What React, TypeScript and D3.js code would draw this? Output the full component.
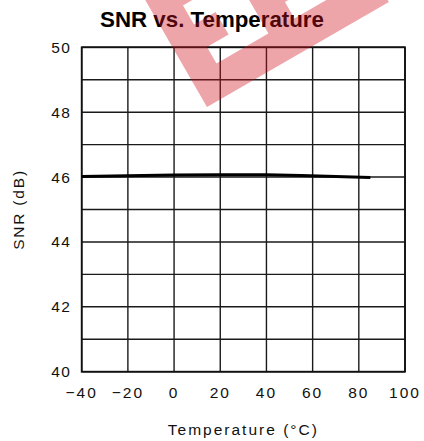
import React from "react";
import * as d3 from "d3";

const temps = [-40, -20, 0, 20, 40, 55, 70, 85];
const snr = [46.02, 46.04, 46.06, 46.07, 46.07, 46.05, 46.02, 45.99];
const xTicks = [-40, -20, 0, 20, 40, 60, 80, 100];
const yTicks = [40, 42, 44, 46, 48, 50];
const yGrid = [40, 41, 42, 43, 44, 45, 46, 47, 48, 49, 50];
const title = "SNR vs. Temperature";
const xTitle = "Temperature (°C)";
const yTitle = "SNR (dB)";

const W = 424;
const H = 441;
const L = 81.7, R = 405, T = 47.3, B = 371.7;

export default function App() {
  const x = d3.scaleLinear().domain([-40, 100]).range([L, R]);
  const y = d3.scaleLinear().domain([40, 50]).range([B, T]);
  const line = d3
    .line<number>()
    .x((_, i) => x(temps[i]))
    .y((d) => y(d));

  // watermark shape (two rotated "E" letters)
  const wm = [
    [0, 0, 210, 33],
    [0, 0, 30, 135],
    [0, 52, 55, 26],
    [0, 100, 80, 35],
    [90, 0, 30, 135],
    [90, 52, 60, 26],
    [90, 100, 85, 35],
  ]
    .map(([u, v, w, h]) => `M${u},${-v}h${w}v${-h}h${-w}Z`)
    .join("");

  const font = "'Liberation Sans', Arial, sans-serif";
  return (
    <svg
      width={W}
      height={H}
      style={{ position: "absolute", left: 0, top: 0, background: "#fff" }}
    >
      <rect x={0} y={0} width={W} height={H} fill="#fff" />
      {yGrid.map((v) => (
        <line key={"h" + v} x1={L} x2={R} y1={y(v)} y2={y(v)} stroke="#1a1a1a" strokeWidth={1.4} />
      ))}
      {xTicks.map((v) => (
        <line key={"v" + v} x1={x(v)} x2={x(v)} y1={T} y2={B} stroke="#1a1a1a" strokeWidth={1.4} />
      ))}
      <rect x={L} y={T} width={R - L} height={B - T} fill="none" stroke="#111" strokeWidth={1.8} />
      <path d={line(snr) || ""} fill="none" stroke="#000" strokeWidth={3} />
      {yTicks.map((v) => (
        <text
          key={"yt" + v}
          x={71}
          y={y(v)}
          textAnchor="end"
          dominantBaseline="central"
          fontFamily={font}
          fontSize={15.5}
          letterSpacing={1.2}
          fill="#111"
        >
          {v}
        </text>
      ))}
      {xTicks.map((v) => (
        <text
          key={"xt" + v}
          x={x(v)}
          y={398}
          textAnchor="middle"
          fontFamily={font}
          fontSize={15.5}
          letterSpacing={2}
          fill="#111"
        >
          {v < 0 ? "\u2212" + Math.abs(v) : v}
        </text>
      ))}
      <text
        x={(L + R) / 2}
        y={435}
        textAnchor="middle"
        fontFamily={font}
        fontSize={15.5}
        letterSpacing={2}
        fill="#111"
      >
        {xTitle}
      </text>
      <text
        transform={`translate(24,${(T + B) / 2}) rotate(-90)`}
        textAnchor="middle"
        fontFamily={font}
        fontSize={15.5}
        letterSpacing={1.8}
        fill="#111"
      >
        {yTitle}
      </text>
      <text
        x={212}
        y={27}
        textAnchor="middle"
        fontFamily={font}
        fontWeight="bold"
        fontSize={22.3}
        fill="#000"
      >
        {title}
      </text>
      <g transform="translate(207,107) rotate(-30)">
        <path d={wm} fill="#d0121e" fillOpacity={0.38} />
      </g>
    </svg>
  );
}
